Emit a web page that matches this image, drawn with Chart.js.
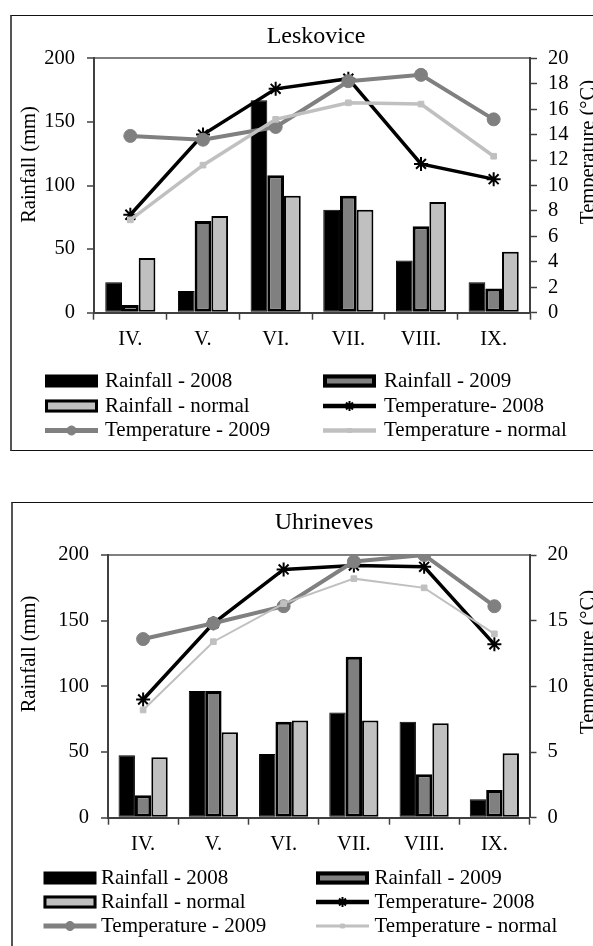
<!DOCTYPE html>
<html lang="en">
<head>
<meta charset="UTF-8" />
<title>Rainfall and temperature - Leskovice, Uhrineves</title>
<script src="https://cdn.jsdelivr.net/npm/chart.js"></script>
<style>
  html, body {
    margin: 0;
    padding: 0;
    background: white;
    width: 593px;
    height: 946px;
    overflow: hidden;
  }
  .wrap { position: absolute; left: 0; }
  .box {
    position: absolute;
    border: 1px solid #111;
    border-left: 2px solid #555;
  }
  canvas { position: absolute; left: 0; top: 0; }
</style>
</head>
<body>
  <div class="wrap" style="top:0">
    <div class="box" style="left:10px; top:15px; width:640px; height:434px"></div>
    <canvas id="chartLeskovice" width="632" height="460"></canvas>
  </div>
  <div class="wrap" style="top:486px">
    <div class="box" style="left:11px; top:16px; width:640px; height:500px"></div>
    <canvas id="chartUhrineves" width="648" height="460"></canvas>
  </div>

<script>
const months = ["IV.", "V.", "VI.", "VII.", "VIII.", "IX."];
const rainTicks = [0, 50, 100, 150, 200];

// Leskovice
const leskRain2008 = [24, 17, 167, 81, 41, 24];
const leskRain2009 = [6, 72, 108, 92, 68, 19];
const leskRainNormal = [43, 76, 92, 81, 87, 48];
const leskTemp2008 = [7.7, 14.0, 17.6, 18.4, 11.7, 10.5];
const leskTemp2009 = [13.9, 13.6, 14.6, 18.2, 18.7, 15.2];
const leskTempNormal = [7.3, 11.6, 15.2, 16.5, 16.4, 12.3];
const leskTempTicks = [0, 2, 4, 6, 8, 10, 12, 14, 16, 18, 20];

// Uhrineves
const uhrRain2008 = [47.5, 96.5, 48.5, 80, 73, 14];
const uhrRain2009 = [17, 96.5, 73, 122.5, 33, 21];
const uhrRainNormal = [46, 65, 74, 74, 72, 49];
const uhrTemp2008 = [9.0, 14.8, 18.9, 19.2, 19.1, 13.2];
const uhrTemp2009 = [13.6, 14.8, 16.1, 19.5, 20.0, 16.1];
const uhrTempNormal = [8.2, 13.4, 16.3, 18.2, 17.5, 14.0];
const uhrTempTicks = [0, 5, 10, 15, 20];

const FONT = "'Liberation Serif', 'Times New Roman', serif";

// axis titles (both read bottom-to-top) and the 2-column legend
const sideTexts = {
  id: 'sideTexts',
  afterDraw(chart, args, opts) {
    const ctx = chart.ctx;
    ctx.save();
    ctx.fillStyle = '#000';
    ctx.font = '20.5px ' + FONT;
    ctx.textAlign = 'center';
    ctx.textBaseline = 'middle';
    opts.axisTitles.forEach(t => {
      ctx.save();
      ctx.translate(t.x, t.y);
      ctx.rotate(-Math.PI / 2);
      ctx.fillText(t.text, 0, 0);
      ctx.restore();
    });

    const lg = opts.legend;
    chart.data.datasets.forEach((ds, i) => {
      const row = Math.floor(i / 2), col = i % 2;
      const y = lg.rows[row];
      const x0 = lg.symbolX[col], w = lg.symbolW;
      if (ds.type === 'bar') {
        const h = 13;
        ctx.fillStyle = ds.backgroundColor;
        ctx.fillRect(x0, y - h / 2, w, h);
        const bw = ds.borderWidth > 1 ? ds.borderWidth + 1 : 0;
        if (bw) {
          ctx.lineWidth = bw;
          ctx.strokeStyle = ds.borderColor;
          ctx.strokeRect(x0 + bw / 2, y - h / 2 + bw / 2, w - bw, h - bw);
        }
      } else {
        ctx.strokeStyle = ds.borderColor;
        ctx.lineWidth = ds.borderWidth + 1;
        ctx.beginPath();
        ctx.moveTo(x0, y);
        ctx.lineTo(x0 + w, y);
        ctx.stroke();
        ctx.fillStyle = ds.pointBackgroundColor;
        ctx.strokeStyle = ds.pointBorderColor;
        ctx.lineWidth = ds.pointBorderWidth;
        Chart.helpers.drawPoint(ctx, {
          pointStyle: ds.pointStyle,
          radius: ds.pointRadius * 0.7,
          rotation: 0,
          borderWidth: ds.pointBorderWidth
        }, x0 + w / 2, y);
      }
      ctx.fillStyle = '#000';
      ctx.font = '21px ' + FONT;
      ctx.textAlign = 'left';
      ctx.fillText(ds.label, lg.textX[col], y);
    });
    ctx.restore();
  }
};

function makeChart(id, name, rain08, rain09, rainN, t08, t09, tN, tTicks, L) {
  const canvas = document.getElementById(id);
  const W = canvas.width;
  const barOpts = { borderSkipped: false, categoryPercentage: L.catPct, barPercentage: 1, yAxisID: 'y', order: 3 };
  const tickFont = { family: FONT, size: 20.5 };
  return new Chart(canvas, {
    type: 'bar',
    data: {
      labels: months,
      datasets: [
        Object.assign({ type: 'bar', label: 'Rainfall - 2008', data: rain08,
          backgroundColor: '#000', borderColor: '#000', borderWidth: 1 }, barOpts),
        Object.assign({ type: 'bar', label: 'Rainfall - 2009', data: rain09,
          backgroundColor: '#808080', borderColor: '#000', borderWidth: 3 }, barOpts),
        Object.assign({ type: 'bar', label: 'Rainfall - normal', data: rainN,
          backgroundColor: '#c0c0c0', borderColor: '#000', borderWidth: 2 }, barOpts),
        // later series sit on top, as in the original
        { type: 'line', label: 'Temperature- 2008', data: t08, yAxisID: 'y1', order: 2,
          borderColor: '#000', borderWidth: 3.5, tension: 0,
          pointStyle: 'star', pointRadius: 7, pointBorderWidth: 2,
          pointBackgroundColor: '#000', pointBorderColor: '#000' },
        { type: 'line', label: 'Temperature - 2009', data: t09, yAxisID: 'y1', order: 1,
          borderColor: '#808080', borderWidth: 4, tension: 0,
          pointStyle: 'circle', pointRadius: 6.5, pointBorderWidth: 1,
          pointBackgroundColor: '#808080', pointBorderColor: '#808080' },
        { type: 'line', label: 'Temperature - normal', data: tN, yAxisID: 'y1', order: 0,
          borderColor: '#c0c0c0', borderWidth: L.normalWidth, tension: 0,
          pointStyle: 'rect', pointRadius: 4, pointBorderWidth: 1,
          pointBackgroundColor: '#c0c0c0', pointBorderColor: '#c0c0c0' }
      ]
    },
    options: {
      responsive: false,
      animation: false,
      layout: { padding: { left: 0, right: 0, top: 0, bottom: L.padBottom } },
      plugins: {
        legend: { display: false },
        tooltip: { enabled: false },
        title: {
          display: true,
          text: name,
          color: '#000',
          font: { family: FONT, size: 24, weight: 'normal' },
          padding: { top: 22.6, bottom: L.titleBottom }
        },
        sideTexts: {
          axisTitles: [
            { text: 'Rainfall (mm)', x: 30, y: L.leftTitleY },
            { text: 'Temperature (°C)', x: 589, y: L.rightTitleY }
          ],
          legend: L.legend
        }
      },
      scales: {
        x: {
          grid: { offset: true, drawOnChartArea: false, tickLength: 7, tickColor: '#404040', tickWidth: 1.5 },
          border: { color: '#404040', width: 2 },
          ticks: { font: tickFont, color: '#000', padding: 8, autoSkip: false, maxRotation: 0 },
          afterFit: s => { s.height = 40; }
        },
        y: {
          position: 'left',
          min: rainTicks[0],
          max: rainTicks[rainTicks.length - 1],
          ticks: { stepSize: rainTicks[1] - rainTicks[0], font: tickFont, color: '#000', padding: 12, autoSkip: false },
          grid: {
            color: c => (c.tick && c.tick.value === rainTicks[rainTicks.length - 1]) ? '#808080' : 'rgba(0,0,0,0)',
            lineWidth: 2,
            tickColor: '#404040', tickWidth: 1.5, tickLength: 7
          },
          border: { color: '#404040', width: 2 },
          afterFit: s => { s.width = L.plotLeft; }
        },
        y1: {
          position: 'right',
          min: tTicks[0],
          max: tTicks[tTicks.length - 1],
          ticks: { stepSize: tTicks[1] - tTicks[0], font: tickFont, color: '#000', padding: 11, autoSkip: false },
          grid: { drawOnChartArea: false, tickColor: '#404040', tickWidth: 1.5, tickLength: 7 },
          border: { color: '#404040', width: 2 },
          afterFit: s => { s.width = W - L.plotRight; }
        }
      }
    },
    plugins: [sideTexts]
  });
}

makeChart('chartLeskovice', 'Leskovice',
  leskRain2008, leskRain2009, leskRainNormal,
  leskTemp2008, leskTemp2009, leskTempNormal, leskTempTicks, {
    plotLeft: 94, plotRight: 530, catPct: 0.69, normalWidth: 3.5,
    titleBottom: 6.9, padBottom: 107.3,
    leftTitleY: 164.5, rightTitleY: 152,
    legend: { rows: [381, 406, 430.5], symbolX: [45, 323], symbolW: 53, textX: [105, 384] }
  });

makeChart('chartUhrineves', 'Uhrineves',
  uhrRain2008, uhrRain2009, uhrRainNormal,
  uhrTemp2008, uhrTemp2009, uhrTempNormal, uhrTempTicks, {
    plotLeft: 108, plotRight: 529.5, catPct: 0.70, normalWidth: 2,
    titleBottom: 17.6, padBottom: 88.3,
    leftTitleY: 168, rightTitleY: 176,
    legend: { rows: [392, 416, 440], symbolX: [43.5, 316], symbolW: 53, textX: [101, 374.5] }
  });
</script>
</body>
</html>
